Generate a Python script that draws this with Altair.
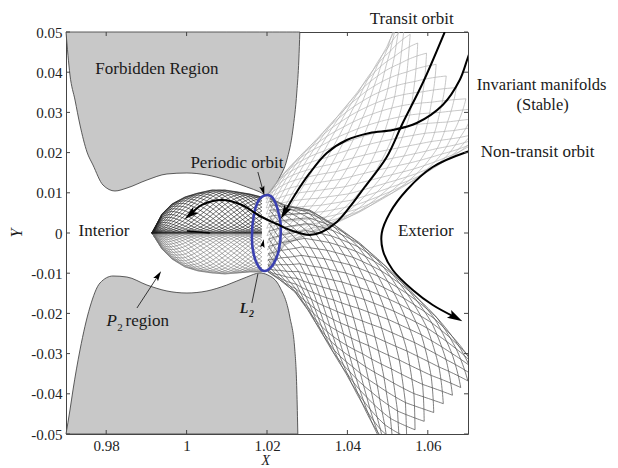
import altair as alt
import numpy as np
import pandas as pd

# ---------------- axes ----------------
x_ticks = [0.98, 1.0, 1.02, 1.04, 1.06]
y_ticks = [0.05, 0.04, 0.03, 0.02, 0.01, 0.0, -0.01, -0.02, -0.03, -0.04, -0.05]

# ---------------- forbidden regions (zero-velocity curves) ----------------
upper_x = [0.97, 0.97099, 0.97224, 0.97348, 0.97522, 0.97671, 0.97920, 0.98218, 0.98516,
           0.99013, 0.99511, 1.00008, 1.00505, 1.01002, 1.01499, 1.01822, 1.01971,
           1.02145, 1.02319, 1.02494, 1.02643, 1.02742, 1.02792, 1.02817]
upper_y = [0.05, 0.03930, 0.03308, 0.02687, 0.02015, 0.01692, 0.01194, 0.01045, 0.01119,
           0.01318, 0.01468, 0.01493, 0.01443, 0.01318, 0.01144, 0.01020, 0.00945,
           0.01119, 0.01393, 0.01816, 0.02562, 0.03507, 0.04303, 0.05]
lower_x = [0.97, 0.97099, 0.97174, 0.97348, 0.97597, 0.97845, 0.98168, 0.98516, 0.99013,
           0.99511, 1.00008, 1.00505, 1.01002, 1.01499, 1.01822, 1.02021, 1.02319,
           1.02568, 1.02692, 1.02742, 1.02767]
lower_y = [-0.05, -0.04403, -0.03905, -0.02910, -0.01841, -0.01244, -0.01070, -0.01095, -0.01294,
           -0.01443, -0.01493, -0.01443, -0.01294, -0.01095, -0.00995, -0.01045, -0.01343,
           -0.02090, -0.02910, -0.03905, -0.05]

# ---------------- periodic (Lyapunov) orbit around L2 ----------------
orbit_x = [1.02344, 1.02270, 1.02145, 1.01996, 1.01797, 1.01673, 1.01624, 1.01673,
           1.01797, 1.01947, 1.02145, 1.02294]
orbit_y = [0.00149, 0.00572, 0.00871, 0.00945, 0.00821, 0.00448, -0.00124, -0.00547,
           -0.00846, -0.00945, -0.00796, -0.00423]

# ---------------- manifold tube edges (stations from L2 outward) ----------------
stable_ext_a_x = [1.01971, 1.02121, 1.02444, 1.02817, 1.03239, 1.03736, 1.04233, 1.04631, 1.04979, 1.05253]
stable_ext_a_y = [0.00920, 0.01119, 0.01517, 0.01915, 0.02338, 0.02886, 0.03483, 0.04055, 0.04627, 0.05299]
stable_ext_b_x = [1.02021, 1.02444, 1.02941, 1.03562, 1.04308, 1.05128, 1.05800, 1.06471, 1.06993, 1.07664]
stable_ext_b_y = [-0.00871, -0.00299, -0.00075, 0.00174, 0.00522, 0.00995, 0.01393, 0.01816, 0.02139, 0.02512]

unstable_ext_a_x = [1.02071, 1.02444, 1.03065, 1.03687, 1.04308, 1.04929, 1.05551, 1.06222, 1.06794, 1.07291]
unstable_ext_a_y = [0.00871, 0.00697, 0.00572, 0.00199, -0.00249, -0.00796, -0.01418, -0.02090, -0.02786, -0.03408]
unstable_ext_b_x = [1.02021, 1.02319, 1.02692, 1.03015, 1.03314, 1.03637, 1.03985, 1.04358, 1.04731, 1.05004]
unstable_ext_b_y = [-0.00970, -0.01169, -0.01468, -0.01915, -0.02413, -0.02960, -0.03532, -0.04229, -0.04975, -0.05522]

lobe_x = [1.01872, 1.01574, 1.01275, 1.00952, 1.00629, 1.00281, 0.99958, 0.99635, 0.99386, 0.99138]
lobe_top_y = [0.00896, 0.00970, 0.01020, 0.01070, 0.01070, 0.00995, 0.00896, 0.00722, 0.00473, 0.0]
lobe_mid_y = [0.0, 0.0, 0.0, 0.0, 0.0, 0.0, 0.0, 0.0, 0.0, 0.0]
lobe_bot_y = [-0.00970, -0.00970, -0.00995, -0.01020, -0.00995, -0.00945, -0.00846, -0.00647, -0.00398, 0.0]

# ---------------- sample trajectories ----------------
transit_x = [1.06421, 1.05874, 1.05377, 1.04979, 1.04432, 1.04059, 1.03736, 1.03363, 1.03065,
             1.02643, 1.02245, 1.01822, 1.01375, 1.00878, 1.00381, 1.00107]
transit_y = [0.05, 0.03731, 0.02736, 0.01891, 0.01144, 0.00647, 0.00274, 0.00025, -0.0005,
             0.0005, 0.00224, 0.00423, 0.00697, 0.00821, 0.00697, 0.00473]
manifold_x = [1.07100, 1.06993, 1.06794, 1.06371, 1.05725, 1.05128, 1.04557, 1.03985, 1.03488,
              1.03065, 1.02692, 1.02443]
manifold_y = [0.04650, 0.04353, 0.03806, 0.03184, 0.02736, 0.02562, 0.02488, 0.02313, 0.01990,
              0.01493, 0.00945, 0.00522]
nontransit_x = [1.07100, 1.06968, 1.06123, 1.05477, 1.05054, 1.04855, 1.04880, 1.05128, 1.05625,
                1.06123, 1.06670]
nontransit_y = [0.02050, 0.02015, 0.01642, 0.01070, 0.00498, 0.0, -0.00423, -0.00920, -0.01418,
                -0.01791, -0.02090]
sliver_x = [1.00008, 1.00579]
sliver_y = [0.0005, 0.0]

# annotation pointers
po_ptr_x = [1.01773, 1.01897]
po_ptr_y = [0.01517, 0.01070]
p2_ptr_x = [0.98765, 0.99287]
p2_ptr_y = [-0.01866, -0.01070]
l2_ptr_x = [1.01624, 1.01773]
l2_ptr_y = [-0.01741, -0.01020]

# ---------------- labels ----------------
label_text = ["Forbidden Region", "Periodic orbit", "Interior", "Exterior", "Transit orbit",
              "Non-transit orbit"]
label_x = [0.99262, 1.01251, 0.97945, 1.05949, 1.05601, 1.08733]
label_y = [0.04080, 0.01741, 0.00050, 0.00050, 0.05323, 0.02015]
inv_text = ["Invariant manifolds", "(Stable)"]
inv_x = [1.08832, 1.08857]
inv_y = [0.03682, 0.03184]

FONT = "Liberation Serif"
W = 402
H = 402

xs = alt.Scale(domain=[0.97, 1.07], nice=False, zero=False)
ys = alt.Scale(domain=[-0.05, 0.05], nice=False, zero=False)
lab_expr = "datum.value < -0.0000001 ? '-' + format(-datum.value, '.2~f') : format(abs(datum.value), '.2~f')"
x_axis = alt.Axis(values=x_ticks, title=None, labelExpr=lab_expr, labelPadding=4,
                  labelFont=FONT, labelFontSize=15, labelColor="#222", grid=False, domain=False, ticks=False)
y_axis = alt.Axis(values=y_ticks, title=None, labelExpr=lab_expr, labelPadding=4,
                  labelFont=FONT, labelFontSize=15, labelColor="#222", grid=False, domain=False, ticks=False)


def X(f="x"):
    return alt.X(f"{f}:Q", scale=xs, axis=x_axis)


def Y(f="y"):
    return alt.Y(f"{f}:Q", scale=ys, axis=y_axis)


def tube_mesh(ax, ay, bx, by, n_lines, cycles, name, phase0=0.0, samples=110):
    s = np.linspace(0, 1, len(ax))
    t = np.linspace(0, 1, samples)
    Ax, Ay = np.interp(t, s, ax), np.interp(t, s, ay)
    Bx, By = np.interp(t, s, bx), np.interp(t, s, by)
    frames = []
    for k in range(n_lines):
        w = 0.5 + 0.5 * np.cos(2 * np.pi * (k / n_lines + cycles * t) + phase0)
        frames.append(pd.DataFrame({"x": Ax + (Bx - Ax) * w, "y": Ay + (By - Ay) * w,
                                    "line": f"{name}{k}", "i": np.arange(samples)}))
    return pd.concat(frames, ignore_index=True)


def mesh_layer(df, color, width, opacity=1.0):
    return alt.Chart(df).mark_line(color=color, strokeWidth=width, opacity=opacity, clip=True).encode(
        x=X(), y=Y(), detail="line:N", order="i:Q")


def path_df(px, py):
    return pd.DataFrame({"x": px, "y": py, "i": list(range(len(px)))})


def curve_layer(px, py, color="black", width=2.0, interp="catmull-rom"):
    return alt.Chart(path_df(px, py)).mark_line(color=color, strokeWidth=width, interpolate=interp,
                                                clip=True).encode(x=X(), y=Y(), order="i:Q")


def head_row(px, py, size):
    dx = px[-1] - px[-2]
    dy = py[-1] - py[-2]
    ang = (np.degrees(np.arctan2(dx, dy)) + 360) % 360
    return {"x": px[-1], "y": py[-1], "angle": ang, "size": size}


def text_layer(xv, yv, tv, size, style="normal", weight="normal", align="center",
               baseline="middle", angle=0):
    df = pd.DataFrame({"x": xv, "y": yv, "t": tv})
    return alt.Chart(df).mark_text(font=FONT, fontSize=size, fontStyle=style, fontWeight=weight,
                                   color="#1a1a1a", align=align, baseline=baseline, angle=angle).encode(
        x=X(), y=Y(), text="t:N")


# forbidden regions
up_df = pd.DataFrame({"x": upper_x, "y": upper_y, "y2": 0.05})
lo_df = pd.DataFrame({"x": lower_x, "y": lower_y, "y2": -0.05})
forb_style = dict(fill="#c8c8c8", stroke="#4a4a4a", strokeWidth=0.9, interpolate="monotone")
upper_area = alt.Chart(up_df).mark_area(**forb_style).encode(x=X(), y=Y(), y2="y2:Q")
lower_area = alt.Chart(lo_df).mark_area(**forb_style).encode(x=X(), y=Y(), y2="y2:Q")

# meshes
m_stable = tube_mesh(stable_ext_a_x, stable_ext_a_y, stable_ext_b_x, stable_ext_b_y, 30, 0.45, "s")
m_unstable = tube_mesh(unstable_ext_a_x, unstable_ext_a_y, unstable_ext_b_x, unstable_ext_b_y, 30, 0.45, "u")
m_lobe_top = tube_mesh(lobe_x, lobe_top_y, lobe_x, lobe_mid_y, 28, 0.7, "lt")
m_lobe_bot = tube_mesh(lobe_x, lobe_mid_y, lobe_x, lobe_bot_y, 28, 0.7, "lb")

layers = [
    upper_area, lower_area,
    mesh_layer(m_stable, "#b0b0b0", 0.7),
    mesh_layer(m_lobe_bot, "#707070", 0.6),
    mesh_layer(m_unstable, "#555555", 0.75),
    mesh_layer(m_lobe_top, "#1e1e1e", 0.65),
]

# periodic orbit
layers.append(alt.Chart(path_df(orbit_x, orbit_y)).mark_line(
    color="#3a40b0", strokeWidth=2.6, interpolate="cardinal-closed").encode(x=X(), y=Y(), order="i:Q"))

# trajectories
layers.append(curve_layer(transit_x, transit_y))
layers.append(curve_layer(manifold_x, manifold_y))
layers.append(curve_layer(nontransit_x, nontransit_y))
layers.append(curve_layer(sliver_x, sliver_y, width=1.6, interp="linear"))
# pointers
layers.append(curve_layer(po_ptr_x, po_ptr_y, color="#222", width=0.9, interp="linear"))
layers.append(curve_layer(p2_ptr_x, p2_ptr_y, color="#222", width=0.9, interp="linear"))
layers.append(curve_layer(l2_ptr_x, l2_ptr_y, color="#222", width=0.9, interp="linear"))

heads = pd.DataFrame([
    head_row(transit_x, transit_y, 260),
    head_row(manifold_x, manifold_y, 260),
    head_row(nontransit_x, nontransit_y, 300),
    head_row(po_ptr_x, po_ptr_y, 110),
    head_row(p2_ptr_x, p2_ptr_y, 130),
    {"x": 1.01897, "y": -0.00274, "angle": 10.0, "size": 90},
])
arrow_shape = "M0,-1L0.5,0.75L0,0.4L-0.5,0.75Z"
layers.append(alt.Chart(heads).mark_point(shape=arrow_shape, filled=True, color="black", opacity=1,
                                          strokeWidth=0).encode(
    x=X(), y=Y(), angle=alt.Angle("angle:Q", scale=None), size=alt.Size("size:Q", scale=None)))

# inward ticks
xt = pd.DataFrame({"x": x_ticks})
yt = pd.DataFrame({"y": y_ticks})
tick_style = dict(color="#444", strokeWidth=1)
layers.append(alt.Chart(xt).mark_rule(**tick_style).encode(x=X(), y=alt.value(H), y2=alt.value(H - 4)))
layers.append(alt.Chart(xt).mark_rule(**tick_style).encode(x=X(), y=alt.value(0), y2=alt.value(4)))
layers.append(alt.Chart(yt).mark_rule(**tick_style).encode(y=Y(), x=alt.value(0), x2=alt.value(4)))
layers.append(alt.Chart(yt).mark_rule(**tick_style).encode(y=Y(), x=alt.value(W), x2=alt.value(W - 4)))

# labels
layers.append(text_layer(label_x, label_y, label_text, 17))
layers.append(text_layer(inv_x, inv_y, inv_text, 16.5))

# P2 region
layers.append(text_layer([0.98005], [-0.02313], ["P"], 17, style="italic", align="left", baseline="alphabetic"))
layers.append(text_layer([0.98275], [-0.02430], ["2"], 11, align="left", baseline="alphabetic"))
layers.append(text_layer([0.98480], [-0.02313], ["region"], 17, align="left", baseline="alphabetic"))
# L2
layers.append(text_layer([1.01325], [-0.01990], ["L"], 14, style="italic", weight="bold",
                         align="left", baseline="alphabetic"))
layers.append(text_layer([1.01550], [-0.02090], ["2"], 10, style="italic", weight="bold",
                         align="left", baseline="alphabetic"))

# axis titles
layers.append(text_layer([0.95782], [0.0], ["Y"], 16, style="italic", angle=270))
layers.append(text_layer([1.01972], [-0.05660], ["X"], 14, style="italic"))

chart = alt.layer(*layers).properties(
    width=W, height=H,
    autosize=alt.AutoSizeParams(type="none"),
    padding={"left": 58, "top": 24, "right": 140, "bottom": 34},
    background="white",
).configure_view(stroke="#444", strokeWidth=1)

chart.save("out.html", embed_options={"renderer": "svg", "actions": False})
